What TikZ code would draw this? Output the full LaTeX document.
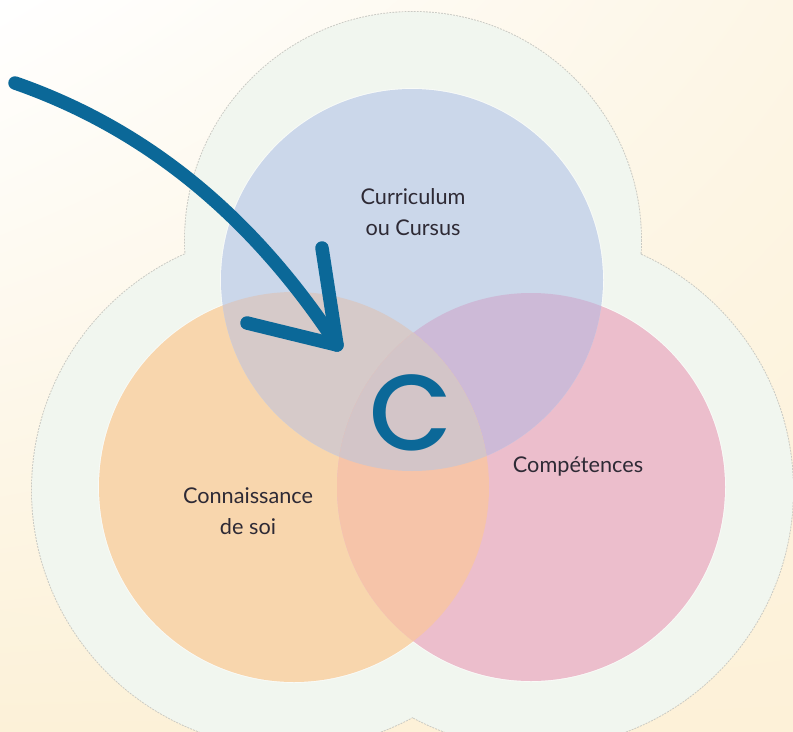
\documentclass[tikz,border=0pt]{standalone}
\usepackage{fontspec}
\setmainfont{Lato}
\newfontfamily\letterfont{Poppins Medium}
\usetikzlibrary{positioning,shadings}

\definecolor{bgtopright}{HTML}{FDF6E6}
\definecolor{bgbotleft}{HTML}{FCF1D8}
\definecolor{bgbotright}{HTML}{FDF1D8}
\definecolor{halo}{HTML}{F1F6EF}
\definecolor{haloedge}{HTML}{C9CAC4}
\definecolor{bluefill}{HTML}{CBD7EA}
\definecolor{orangefill}{HTML}{F8D6AD}
\definecolor{pinkfill}{HTML}{ECBECC}
\definecolor{blueorange}{HTML}{D6CAC9}
\definecolor{bluepink}{HTML}{CDBAD7}
\definecolor{orangepink}{HTML}{F6C4A9}
\definecolor{centre}{HTML}{D3C5C8}
\definecolor{arrowblue}{HTML}{0B6898}
\definecolor{labeltext}{HTML}{2E2A35}

\tikzset{
    circlelabel/.style={text=labeltext, align=center, font=\fontsize{18.5}{26.5}\selectfont},
    arrowline/.style={draw=arrowblue, line width=11.5pt, line cap=round, line join=round}
}

\begin{document}
\begin{tikzpicture}[x=0.03cm, y=-0.03cm]
    \useasboundingbox (0,0) rectangle (793,731);

    % Background
    \shade[upper left=white, upper right=bgtopright, lower left=bgbotleft, lower right=bgbotright] (0,0) rectangle (793,731);

    % Halos: dotted rim first, fill over it so only the outer rim is left
    \foreach \cx/\cy/\r in {413/240/228, 290/490/258, 535/490/258} {
        \draw[haloedge, densely dotted, line width=1.6pt] (\cx,\cy) circle (\r);
    }
    \foreach \cx/\cy/\r in {413/240/228, 290/490/258, 535/490/258} {
        \fill[halo] (\cx,\cy) circle (\r);
    }

    % The three circles
    \coordinate (cursus) at (412,280);
    \coordinate (soi) at (294,487);
    \coordinate (skills) at (531,487);

    \foreach \c/\r in {soi/195, skills/194, cursus/191} {
        \draw[white, opacity=0.6, line width=1.5pt] (\c) circle (\r);
    }
    \fill[orangefill] (soi) circle (195);
    \fill[pinkfill] (skills) circle (194);
    \fill[bluefill] (cursus) circle (191);

    % Overlaps
    \begin{scope}
        \clip (cursus) circle (191);
        \fill[blueorange] (soi) circle (195);
        \fill[bluepink] (skills) circle (194);
    \end{scope}
    \begin{scope}
        \clip (soi) circle (195);
        \fill[orangepink] (skills) circle (194);
        \clip (skills) circle (194);
        \fill[centre] (cursus) circle (191);
    \end{scope}

    % Labels
    \node[circlelabel] (curriculum) at (413,212) {Curriculum\\ou Cursus};
    \node[circlelabel] (connaissance) at (248,511) {Connaissance\\de soi};
    \node[circlelabel] (competences) at (578,467) {Compétences};
    \node[text=arrowblue, font=\letterfont\fontsize{92}{92}\selectfont] (letter) at (411,413) {C};

    % Arrow
    \coordinate (start) at (15,83);
    \coordinate (tip) at (337,345);
    \coordinate (wingup) at (322,248);
    \coordinate (wingleft) at (247,323);
    \draw[arrowline] (start) .. controls (150,130) and (255,220) .. (tip);
    \draw[arrowline] (wingup) -- (tip) -- (wingleft);
\end{tikzpicture}
\end{document}
